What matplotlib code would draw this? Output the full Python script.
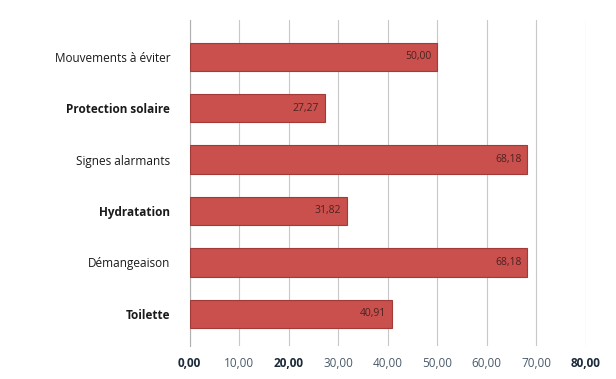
import matplotlib
matplotlib.use("Agg")
import matplotlib.pyplot as plt

categories = ["Mouvements à éviter", "Protection solaire", "Signes alarmants",
              "Hydratation", "Démangeaison", "Toilette"]
values = [50.00, 27.27, 68.18, 31.82, 68.18, 40.91]
bold_cats = {"Protection solaire", "Hydratation", "Toilette"}
ticks = [0, 10, 20, 30, 40, 50, 60, 70, 80]
tick_labels = ["0,00", "10,00", "20,00", "30,00", "40,00", "50,00", "60,00", "70,00", "80,00"]
bold_ticks = {"0,00", "20,00", "80,00"}

plt.rcParams["font.family"] = ["Open Sans", "DejaVu Sans"]

fig = plt.figure(figsize=(6.16, 3.79), dpi=100)
ax = fig.add_axes([0.308, 0.088, 0.643, 0.86])

ypos = list(range(len(categories)))[::-1]
ax.barh(ypos, values, height=0.55, color="#C9504C", edgecolor="#A23B38", linewidth=0.8, zorder=3)

for y, v in zip(ypos, values):
    ax.text(v - 1.2, y, f"{v:.2f}".replace(".", ","), ha="right", va="center",
            fontsize=7.5, color="#4a2322", zorder=4)

ax.set_xlim(0, 80)
ax.set_ylim(-0.62, len(categories) - 0.28)
ax.set_xticks(ticks)
ax.set_xticklabels(tick_labels)
ax.set_yticks(ypos)
ax.set_yticklabels(categories)

for lbl in ax.get_yticklabels():
    lbl.set_fontsize(8.5)
    lbl.set_color("#1a1a1a")
    if lbl.get_text() in bold_cats:
        lbl.set_fontweight("bold")
for lbl in ax.get_xticklabels():
    lbl.set_fontsize(8.5)
    if lbl.get_text() in bold_ticks:
        lbl.set_fontweight("bold")
        lbl.set_color("#1d2a3a")
    else:
        lbl.set_color("#4a5a6a")

ax.grid(axis="x", color="#c8c8c8", linewidth=0.8, zorder=0)
ax.tick_params(axis="x", length=0, pad=8)
ax.tick_params(axis="y", length=0, pad=14)
for side in ["top", "right", "bottom"]:
    ax.spines[side].set_visible(False)
ax.spines["left"].set_color("#b0b0b0")
ax.spines["left"].set_linewidth(0.8)

fig.savefig("out.png", dpi=100, facecolor="white")
